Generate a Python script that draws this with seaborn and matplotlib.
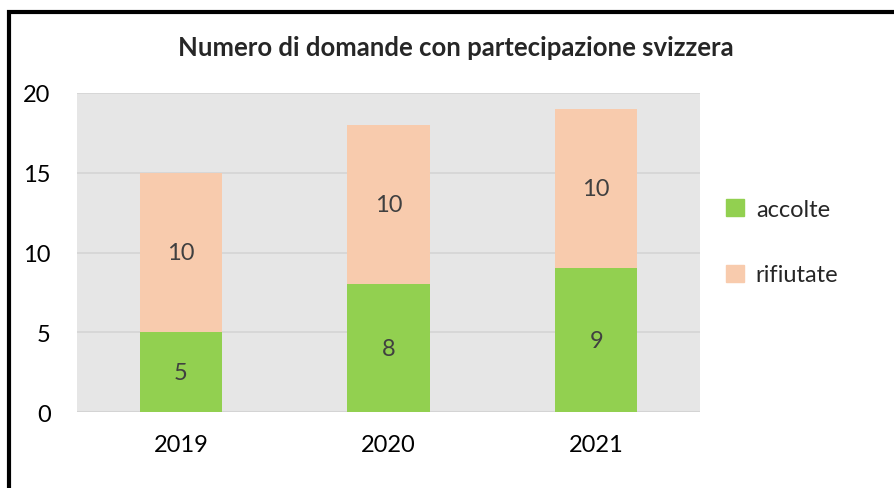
import matplotlib.pyplot as plt
import matplotlib.patches as mpatches
import seaborn as sns
import pandas as pd

# Data
years = ['2019', '2020', '2021']
accolte = [5, 8, 9]
rifiutate = [10, 10, 10]

green = '#92D050'
peach = '#F8CBAD'

sns.set_theme(style='white')
plt.rcParams['font.family'] = ['Lato', 'DejaVu Sans']

fig = plt.figure(figsize=(8.94, 4.89), dpi=100)
ax = fig.add_axes([77 / 894, 1 - 413 / 489, 623 / 894, 319 / 489])
ax.set_facecolor('#E6E6E6')

df = pd.DataFrame({'anno': years, 'accolte': accolte,
                   'totale': [a + r for a, r in zip(accolte, rifiutate)]})

# stacked: draw total first, then the bottom segment over it
sns.barplot(data=df, x='anno', y='totale', color=peach, width=0.395,
            saturation=1, linewidth=0, ax=ax, zorder=3)
sns.barplot(data=df, x='anno', y='accolte', color=green, width=0.395,
            saturation=1, linewidth=0, ax=ax, zorder=3)

for i, (a, r) in enumerate(zip(accolte, rifiutate)):
    ax.text(i, a / 2, str(a), ha='center', va='center', fontsize=17,
            color='#404040', zorder=4)
    ax.text(i, a + r / 2, str(r), ha='center', va='center', fontsize=17,
            color='#404040', zorder=4)

ax.set_ylim(0, 20)
ax.set_xlim(-0.5, 2.5)
ax.set_yticks([0, 5, 10, 15, 20])
ax.yaxis.grid(True, color='#D4D4D4', linewidth=1.2, zorder=0)
ax.set_axisbelow(True)
for s in ax.spines.values():
    s.set_visible(False)
ax.axhline(0, color='#D4D4D4', linewidth=1.5, zorder=2)
ax.set_xlabel('')
ax.set_ylabel('')
ax.tick_params(axis='y', length=0, labelsize=17, pad=19, colors='black')
ax.tick_params(axis='x', length=0, labelsize=17, pad=16, colors='black')

fig.text(456 / 894, 1 - 48 / 489, 'Numero di domande con partecipazione svizzera',
         ha='center', va='center', fontsize=18.5, fontweight='bold')

handles = [mpatches.Patch(color=green, label='accolte'),
           mpatches.Patch(color=peach, label='rifiutate')]
fig.legend(handles=handles, loc='center left',
           bbox_to_anchor=(705 / 894, 1 - 243 / 489), frameon=False,
           fontsize=17, handlelength=0.75, handleheight=0.75,
           handletextpad=0.5, labelspacing=1.9)

# outer border (runs off the right and bottom edge)
fig.patches.append(mpatches.Rectangle((9 / 894, -0.05), 2, 1.05 - 13 / 489,
                                      transform=fig.transFigure, fill=False,
                                      edgecolor='black', linewidth=3))

fig.savefig('out.png', dpi=100)
